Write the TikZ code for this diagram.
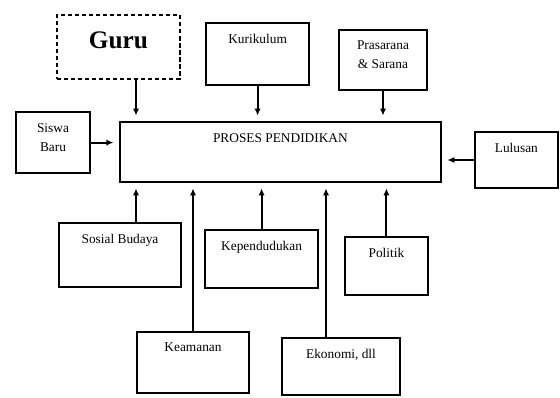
\documentclass[tikz,border=0pt]{standalone}
\usepackage{fontspec}
\setmainfont{Liberation Serif}
\usetikzlibrary{arrows.meta}

\begin{document}
\begin{tikzpicture}[every node/.style={font=\fontsize{9.5}{13.5}\selectfont},
  kotak/.style={draw, line width=1.1pt, inner sep=0pt},
  judul/.style={anchor=north, yshift=-5pt, align=center},
  panah/.style={-{Latex[length=5pt,width=4.5pt]}, line width=1.5pt, shorten >=4pt}]
  \useasboundingbox (0,0) rectangle (14,9.925);
  % masukan di atas
  \node[kotak, densely dashed, line width=1.4pt, minimum width=3.08cm, minimum height=1.6cm,
    label={[judul, yshift=-4pt, font=\fontsize{18}{20}\selectfont\bfseries]north:Guru}] (guru) at (2.96,8.75) {};
  \node[kotak, minimum width=2.58cm, minimum height=1.55cm,
    label={[judul]north:Kurikulum}] (kur) at (6.44,8.575) {};
  \node[kotak, minimum width=2.2cm, minimum height=1.5cm,
    label={[judul]north:Prasarana\\\& Sarana}] (sarana) at (9.575,8.425) {};
  \node[kotak, minimum width=1.85cm, minimum height=1.525cm,
    label={[judul]north:Siswa\\Baru}] (siswa) at (1.325,6.36) {};
  \node[kotak, minimum width=8.03cm, minimum height=1.5cm,
    label={[judul]north:PROSES PENDIDIKAN}] (proses) at (7.01,6.125) {};
  \node[kotak, minimum width=2.08cm, minimum height=1.4cm,
    label={[judul]north:Lulusan}] (lulus) at (12.91,5.925) {};
  % lingkungan di bawah
  \node[kotak, minimum width=3.05cm, minimum height=1.6cm,
    label={[judul]north:Sosial Budaya}] (sosial) at (3.0,3.55) {};
  \node[kotak, minimum width=2.83cm, minimum height=1.45cm,
    label={[judul]north:Kependudukan}] (kepen) at (6.54,3.45) {};
  \node[kotak, minimum width=2.08cm, minimum height=1.45cm,
    label={[judul]north:Politik}] (politik) at (9.66,3.275) {};
  \node[kotak, minimum width=2.8cm, minimum height=1.525cm,
    label={[judul]north:Keamanan}] (aman) at (4.825,0.8625) {};
  \node[kotak, minimum width=2.95cm, minimum height=1.425cm,
    label={[judul]north:Ekonomi, dll}] (ekonomi) at (8.525,0.7625) {};
  % panah
  \coordinate (g1) at ([xshift=0.44cm]guru.south);
  \coordinate (s1) at ([xshift=0.4cm]sosial.north);
  \coordinate (e1) at ([xshift=-0.375cm]ekonomi.north);
  \draw[panah] (g1) -- (g1 |- proses.north);
  \draw[panah] (kur.south) -- (kur.south |- proses.north);
  \draw[panah] (sarana.south) -- (sarana.south |- proses.north);
  \draw[panah] (siswa.east) -- (siswa.east -| proses.west);
  \draw[panah] (lulus.west) -- (lulus.west -| proses.east);
  \draw[panah] (s1) -- (s1 |- proses.south);
  \draw[panah] (aman.north) -- (aman.north |- proses.south);
  \draw[panah] (kepen.north) -- (kepen.north |- proses.south);
  \draw[panah] (e1) -- (e1 |- proses.south);
  \draw[panah] (politik.north) -- (politik.north |- proses.south);
\end{tikzpicture}
\end{document}
